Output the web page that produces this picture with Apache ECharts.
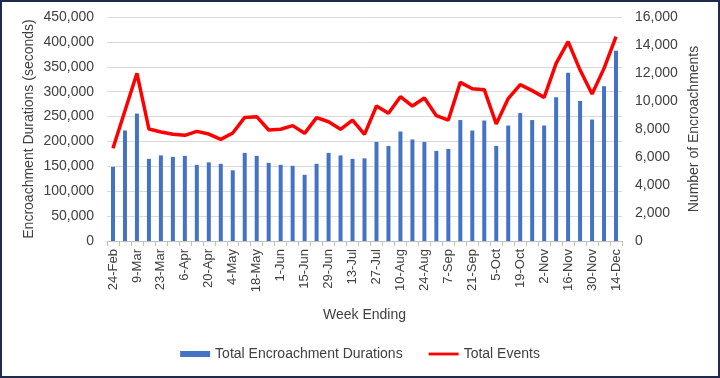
<!DOCTYPE html>
<html>
<head>
<meta charset="utf-8">
<script src="https://cdn.jsdelivr.net/npm/echarts@6/dist/echarts.min.js"></script>
<style>
html,body{margin:0;padding:0;background:#fff;}
#wrap{position:relative;width:720px;height:378px;}
#chart{position:absolute;left:0;top:0;width:720px;height:378px;}
#frame{position:absolute;left:0;top:0;width:720px;height:378px;box-sizing:border-box;border:2px solid #1f2b4d;pointer-events:none;}
</style>
</head>
<body>
<div id="wrap"><div id="chart"></div><div id="frame"></div></div>
<script>
const weeks = ["24-Feb","2-Mar","9-Mar","16-Mar","23-Mar","30-Mar","6-Apr","13-Apr","20-Apr","27-Apr","4-May","11-May","18-May","25-May","1-Jun","8-Jun","15-Jun","22-Jun","29-Jun","6-Jul","13-Jul","20-Jul","27-Jul","3-Aug","10-Aug","17-Aug","24-Aug","31-Aug","7-Sep","14-Sep","21-Sep","28-Sep","5-Oct","12-Oct","19-Oct","26-Oct","2-Nov","9-Nov","16-Nov","23-Nov","30-Nov","7-Dec","14-Dec"];
const durations = [149000,222000,256000,165000,172000,169000,171000,153000,158000,155000,142000,177000,171000,157000,153000,151000,133000,155000,177000,172000,165000,166000,199000,191000,220000,204000,199000,181000,185000,243000,222000,242000,191000,232000,257000,243000,232000,289000,338000,281000,244000,311000,382000];
const events = [6620,9300,11980,8000,7790,7620,7550,7830,7640,7260,7710,8830,8880,7930,7980,8240,7690,8810,8520,7980,8640,7620,9640,9120,10310,9640,10210,8950,8640,11330,10880,10810,8360,10170,11170,10740,10260,12690,14240,12210,10500,12330,14590];
const leftTicks = {min:0, max:450000, interval:50000};
const rightTicks = {min:0, max:16000, interval:2000};

const font = "Liberation Sans";
const chart = echarts.init(document.getElementById('chart'));
chart.setOption({
  animation:false,
  textStyle:{fontFamily:font},
  grid:{left:107, right:98, top:17, bottom:137, containLabel:false},
  legend:{
    bottom:12, left:'center', itemGap:26,
    textStyle:{fontFamily:font, fontSize:14, color:'#404040'},
    data:[
      {name:'Total Encroachment Durations', icon:'rect', itemStyle:{color:'#4472C4'}},
      {name:'Total Events', icon:'path://M0,0h32v3h-32z', itemStyle:{color:'#FF0000'}}
    ],
    itemWidth:30, itemHeight:6
  },
  xAxis:{
    type:'category', data:weeks, boundaryGap:true,
    name:'Week Ending', nameLocation:'middle', nameGap:67, nameMoveOverlap:false,
    nameTextStyle:{fontFamily:font, fontSize:14, color:'#404040'},
    axisLine:{lineStyle:{color:'#bfbfbf'}},
    axisTick:{show:true, interval:0, length:5, lineStyle:{color:'#bfbfbf'}},
    axisLabel:{interval:1, rotate:90, fontSize:13, color:'#404040', fontFamily:font, margin:8}
  },
  yAxis:[
    {type:'value', min:leftTicks.min, max:leftTicks.max, interval:leftTicks.interval,
     name:'Encroachment Durations (seconds)', nameLocation:'middle', nameGap:71, nameRotate:90, nameMoveOverlap:false,
     nameTextStyle:{fontFamily:font, fontSize:14, color:'#404040'},
     axisLine:{show:false}, axisTick:{show:false},
     axisLabel:{fontSize:14, color:'#404040', fontFamily:font, margin:13,
       formatter:v=>v.toLocaleString('en-US')},
     splitLine:{lineStyle:{color:'#d9d9d9', width:1}}},
    {type:'value', min:rightTicks.min, max:rightTicks.max, interval:rightTicks.interval,
     name:'Number of Encroachments', nameLocation:'middle', nameGap:65, nameRotate:90, nameMoveOverlap:false,
     nameTextStyle:{fontFamily:font, fontSize:14, color:'#404040'},
     axisLine:{show:false}, axisTick:{show:false},
     axisLabel:{fontSize:14, color:'#404040', fontFamily:font, margin:13,
       formatter:v=>v.toLocaleString('en-US')},
     splitLine:{show:false}}
  ],
  series:[
    {name:'Total Encroachment Durations', type:'bar', data:durations, yAxisIndex:0,
     barWidth:4, itemStyle:{color:'#4472C4'}},
    {name:'Total Events', type:'line', data:events, yAxisIndex:1,
     showSymbol:false, symbol:'none', lineStyle:{color:'#FF0000', width:3.5}, itemStyle:{color:'#FF0000'}}
  ]
});
</script>
</body>
</html>
